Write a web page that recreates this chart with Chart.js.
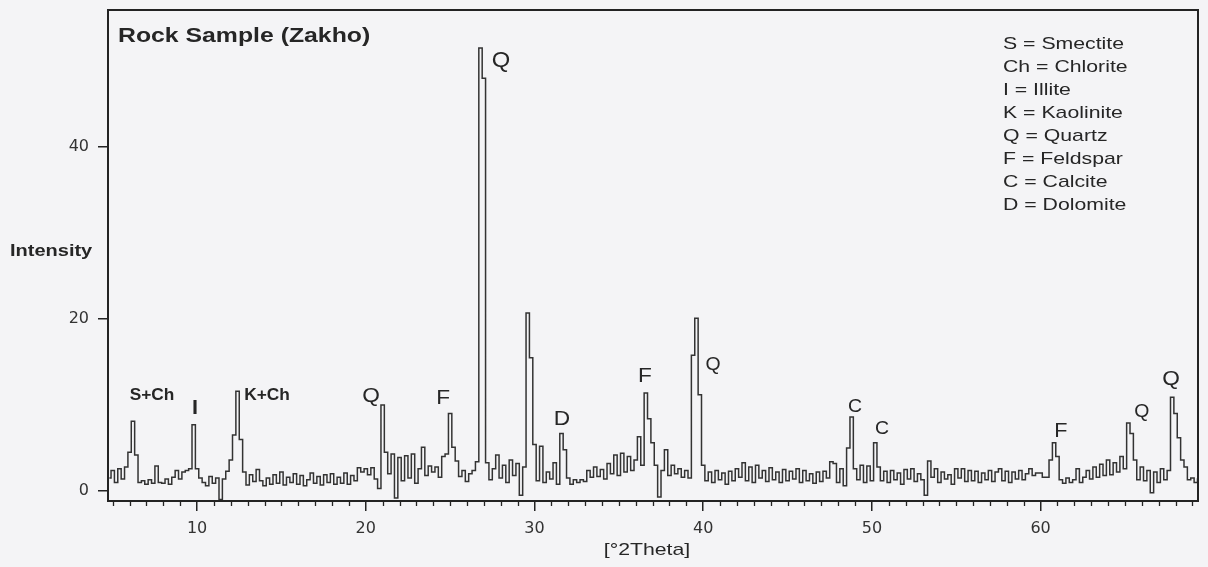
<!DOCTYPE html>
<html>
<head>
<meta charset="utf-8">
<script src="https://cdn.jsdelivr.net/npm/chart.js@4.4.1/dist/chart.umd.min.js"></script>
<style>
  html, body { margin: 0; padding: 0; background: #f4f4f6; }
  #xrd { display: block; }
</style>
</head>
<body>
<canvas id="xrd" width="1208" height="567"></canvas>
<script>
// XRD scan: grid starts at 4.8 deg, one value every 0.2 deg
const scanStart = 4.8;
const scanStep = 0.2;
const intensity = [
  1.5,
  2.4, 1.0, 2.6, 1.4, 2.8,    // 5
  4.5, 8.1, 4.2, 1.0, 1.2,    // 6
  0.8, 1.3, 0.9, 2.9, 1.0,    // 7
  0.9, 1.4, 0.8, 1.6, 2.4,    // 8
  1.4, 2.2, 2.4, 2.6, 7.7,    // 9
  2.6, 1.5, 1.0, 0.6, 1.7,    // 10
  0.9, 1.5, -1.0, 1.4, 2.3,   // 11
  3.6, 6.5, 11.6, 6.0, 2.2,   // 12
  0.7, 1.9, 1.1, 2.5, 1.2,    // 13
  0.6, 1.5, 0.8, 1.9, 0.9,    // 14
  2.2, 0.7, 1.6, 1.0, 2.0,    // 15
  0.8, 1.8, 0.6, 1.3, 2.1,    // 16
  0.9, 1.7, 0.7, 1.9, 1.0,    // 17
  2.0, 0.8, 1.6, 0.9, 2.1,    // 18
  0.8, 1.8, 1.2, 2.7, 2.2,    // 19
  2.6, 1.9, 2.7, 1.4, 0.3,    // 20
  10.0, 4.5, 2.0, 4.3, -0.8,  // 21
  3.9, 1.2, 4.1, 1.5, 4.3,    // 22
  0.9, 2.6, 5.1, 1.8, 2.9,    // 23
  2.2, 2.8, 1.6, 4.0, 4.3,    // 24
  9.0, 5.1, 3.5, 1.7, 2.4,    // 25
  1.1, 2.0, 2.4, 3.4, 51.5,   // 26
  48.0, 3.3, 1.3, 2.6, 4.2,   // 27
  1.5, 3.0, 1.0, 3.6, 1.8,    // 28
  3.2, -0.5, 2.8, 20.7, 15.5, // 29
  5.4, 1.2, 5.2, 1.0, 2.2,    // 30
  1.4, 3.3, 0.8, 6.7, 4.8,    // 31
  1.5, 0.8, 1.3, 1.0, 1.3,    // 32
  1.1, 2.4, 1.6, 2.8, 1.7,    // 33
  2.5, 1.4, 3.2, 2.0, 4.2,    // 34
  1.8, 4.4, 2.2, 4.0, 2.4,    // 35
  3.6, 6.3, 3.0, 11.4, 8.4,   // 36
  5.6, 3.0, -0.7, 2.4, 4.8,   // 37
  1.8, 3.0, 2.0, 2.6, 1.6,    // 38
  2.4, 1.5, 15.8, 20.1, 11.2, // 39
  3.0, 1.2, 2.2, 1.0, 2.4,    // 40
  1.3, 2.1, 0.8, 2.3, 1.2,    // 41
  2.6, 1.6, 3.3, 1.2, 2.8,    // 42
  1.0, 3.0, 1.5, 2.4, 1.1,    // 43
  2.7, 1.3, 2.2, 1.0, 2.5,    // 44
  1.2, 2.3, 1.4, 2.6, 1.0,    // 45
  2.4, 1.2, 2.0, 0.9, 2.2,    // 46
  1.1, 2.3, 1.5, 3.4, 3.2,    // 47
  1.0, 2.6, 0.6, 5.0, 8.6,    // 48
  2.6, 1.3, 3.0, 1.0, 2.9,    // 49
  1.2, 5.6, 2.8, 1.2, 2.3,    // 50
  1.0, 2.4, 1.3, 2.1, 0.8,    // 51
  2.5, 1.4, 2.6, 1.1, 2.0,    // 52
  1.3, -0.5, 3.5, 1.6, 2.6,   // 53
  1.0, 2.2, 1.4, 1.9, 0.8,    // 54
  2.6, 1.5, 2.6, 1.1, 2.4,    // 55
  1.2, 2.3, 1.0, 2.1, 1.3,    // 56
  2.4, 1.1, 2.2, 2.6, 1.2,    // 57
  2.3, 1.0, 2.2, 1.4, 2.4,    // 58
  1.3, 2.0, 2.6, 1.8, 2.1,    // 59
  2.1, 1.6, 1.6, 3.6, 5.6,    // 60
  4.0, 1.3, 0.9, 1.5, 1.0,    // 61
  1.3, 2.6, 1.0, 1.6, 2.4,    // 62
  1.4, 2.8, 1.6, 3.1, 1.8,    // 63
  3.6, 1.9, 3.3, 2.2, 4.0,    // 64
  2.6, 7.9, 6.7, 3.6, 1.3,    // 65
  2.8, 1.2, 2.4, -0.2, 2.2,   // 66
  1.0, 2.6, 1.3, 2.4, 10.9,   // 67
  9.0, 6.2, 3.6, 2.8, 1.3,    // 68
  1.5, 1.0, 1.4               // 69
];
const twoTheta = intensity.map((_, i) => +(scanStart + i * scanStep).toFixed(1));

const yTicks = [0, 20, 40];
const xTicks = [10, 20, 30, 40, 50, 60];

const legendLines = ['S = Smectite', 'Ch = Chlorite', 'I = Illite', 'K = Kaolinite',
  'Q = Quartz', 'F = Feldspar', 'C = Calcite', 'D = Dolomite'];

// peak labels: text, 2theta, intensity where the label sits
const peakNames = ['S+Ch', 'I', 'K+Ch', 'Q', 'F', 'Q', 'D', 'F', 'Q', 'C', 'C', 'F', 'Q', 'Q'];
const peakPos   = [7.33, 9.88, 14.15, 20.31, 24.59, 28.02, 31.63, 36.55, 40.59, 49.0, 50.6, 61.2, 66.0, 67.73];
const peakAt    = [11.05, 9.6, 11.05, 11.05, 10.8, 50.0, 8.4, 13.3, 14.65, 9.8, 7.2, 6.9, 9.2, 13.0];

const fontFam = '"Liberation Sans", Arial, sans-serif';
// label fonts, same order as peakNames
const peakFonts = [
  'bold 16px', 'bold 20px', 'bold 16px', '21px', '21px', '22px', '21px',
  '21px', '18px', '18px', '18px', '20px', '18px', '21px'
];

function stretchText(ctx, txt, x, y, font, align, sx) {
  ctx.save();
  ctx.translate(x, y);
  ctx.scale(sx, 1);
  ctx.font = font;
  ctx.textAlign = align;
  ctx.textBaseline = 'middle';
  ctx.fillText(txt, 0, 0);
  ctx.restore();
}

const decor = {
  id: 'decor',
  afterDatasetsDraw(chart) {
    const { ctx, chartArea: a, scales } = chart;
    const xs = scales.x, ys = scales.y;
    ctx.save();
    // frame
    ctx.strokeStyle = '#232323';
    ctx.lineWidth = 2;
    ctx.strokeRect(a.left, a.top, a.right - a.left, a.bottom - a.top);
    // minor ticks every degree
    ctx.lineWidth = 1.3;
    ctx.beginPath();
    for (let v = Math.ceil(xs.min); v <= xs.max; v++) {
      if (v % 10 === 0) continue;
      const px = Math.round(xs.getPixelForValue(v)) + 0.5;
      ctx.moveTo(px, a.bottom);
      ctx.lineTo(px, a.bottom + 5);
    }
    ctx.stroke();

    ctx.fillStyle = '#262626';
    stretchText(ctx, 'Rock Sample (Zakho)', a.left + 10, 36, 'bold 20px ' + fontFam, 'left', 1.24);
    legendLines.forEach((t, i) => {
      stretchText(ctx, t, 1003, 44 + i * 23, '17px ' + fontFam, 'left', 1.25);
    });
    stretchText(ctx, 'Intensity', 10, 252, 'bold 16px ' + fontFam, 'left', 1.25);
    stretchText(ctx, '[°2Theta]', 647, 550, '17px ' + fontFam, 'center', 1.25);

    peakNames.forEach((t, i) => {
      const px = xs.getPixelForValue(peakPos[i]);
      const py = ys.getPixelForValue(peakAt[i]);
      stretchText(ctx, t, px, py, peakFonts[i] + ' ' + fontFam, 'center', 1.08);
    });
    ctx.restore();
  }
};

const ctx = document.getElementById('xrd').getContext('2d');
new Chart(ctx, {
  type: 'line',
  data: {
    datasets: [{
      data: twoTheta.map((x, i) => ({ x: x, y: intensity[i] })),
      borderColor: '#333',
      borderWidth: 1.5,
      pointRadius: 0,
      stepped: 'middle',
      fill: false
    }]
  },
  options: {
    responsive: false,
    animation: false,
    layout: { padding: { top: 10, right: 10, left: 0, bottom: 0 } },
    plugins: { legend: { display: false }, tooltip: { enabled: false } },
    scales: {
      x: {
        type: 'linear',
        min: 4.72,
        max: 69.33,
        afterFit(s) { s.height = 66; s.paddingLeft = 0; s.paddingRight = 0; },
        afterBuildTicks(s) { s.ticks = xTicks.map(v => ({ value: v })); },
        border: { display: false },
        grid: { drawOnChartArea: false, tickLength: 10, color: '#232323', lineWidth: 1.5 },
        ticks: {
          padding: 8,
          color: '#333',
          font: { family: '"DejaVu Sans", sans-serif', size: 16 }
        }
      },
      y: {
        min: -1.16,
        max: 55.93,
        afterFit(s) { s.width = 108; s.paddingTop = 0; s.paddingBottom = 0; },
        afterBuildTicks(s) { s.ticks = yTicks.map(v => ({ value: v })); },
        border: { display: false },
        grid: { drawOnChartArea: false, tickLength: 10, color: '#232323', lineWidth: 1.5 },
        ticks: {
          padding: 9,
          color: '#333',
          font: { family: '"DejaVu Sans", sans-serif', size: 16 }
        }
      }
    }
  },
  plugins: [decor]
});
</script>
</body>
</html>
